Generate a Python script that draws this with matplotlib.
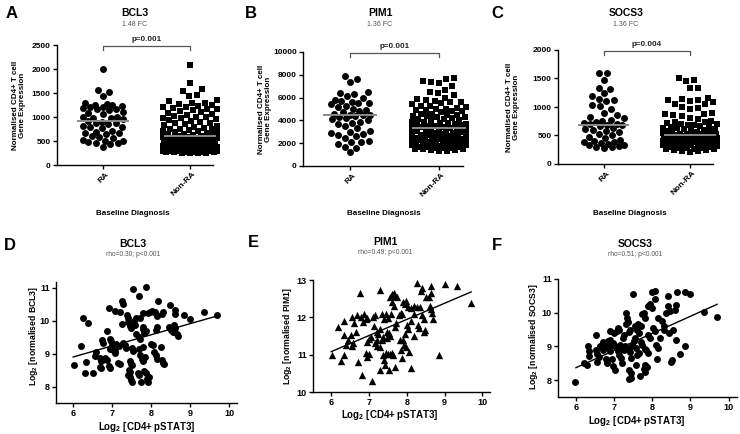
import numpy as np
import matplotlib
matplotlib.use('Agg')
import matplotlib.pyplot as plt
import matplotlib.transforms as mtransforms

plt.rcParams['font.family'] = ['Liberation Sans', 'DejaVu Sans']
plt.rcParams['mathtext.fontset'] = 'custom'
plt.rcParams['mathtext.bf'] = 'Liberation Sans:bold'
plt.rcParams['mathtext.rm'] = 'Liberation Sans:bold'
plt.rcParams['mathtext.default'] = 'bf'

# ---------------- data ----------------
groups = ['RA', 'Non-RA']

bcl3_ra = [2010, 1560, 1530, 1440, 1290, 1270, 1250, 1240, 1220, 1210, 1200, 1180, 1170, 1160, 1150,
           1100, 1080, 1060, 1010, 1000, 980, 970, 950, 920, 900, 880, 870, 860, 820, 800, 790, 770,
           700, 690, 670, 660, 640, 600, 580, 570, 520, 500, 490, 470, 460, 450, 440, 380]
bcl3_nonra = [2080, 1700, 1580, 1540, 1460, 1440, 1360, 1330, 1300, 1290, 1270, 1240, 1230, 1210, 1200,
              1190, 1170, 1160, 1140, 1120, 1100, 1080, 1070, 1050, 1030, 1010, 1000, 980, 970, 950,
              930, 920, 900, 880, 870, 850, 830, 810, 800, 780, 760, 750, 740, 720, 710, 700, 690, 680,
              660, 650, 640, 630, 620, 610, 600, 590, 585, 570, 560, 555, 540, 530, 520, 515, 500, 495,
              490, 480, 470, 465, 460, 450, 445, 440, 430, 420, 415, 410, 400, 395, 390, 380, 375, 370,
              360, 355, 350, 345, 340, 330, 325, 320, 315, 310, 305, 300, 300, 295, 290, 290, 285, 280,
              280, 275, 270, 270, 265, 260, 260, 255, 250]
pim1_ra = [7900, 7600, 7400, 6500, 6400, 6300, 6100, 6000, 5800, 5700, 5600, 5500, 5500, 5400, 5300,
           5200, 5000, 4900, 4800, 4700, 4600, 4500, 4500, 4450, 4400, 4300, 4200, 4100, 4000, 3900,
           3800, 3700, 3500, 3300, 3100, 3000, 2900, 2800, 2700, 2600, 2500, 2200, 2100, 2100, 1900,
           1700, 1600, 1200]
pim1_nonra = [7700, 7600, 7500, 7400, 7300, 7000, 6700, 6500, 6400, 6200, 6000, 5900, 5800, 5700, 5600,
              5600, 5500, 5400, 5300, 5300, 5200, 5100, 5000, 5000, 4900, 4900, 4800, 4800, 4700, 4600,
              4600, 4500, 4500, 4400, 4400, 4300, 4300, 4200, 4100, 4100, 4000, 4000, 3900, 3900, 3800,
              3800, 3700, 3700, 3600, 3600, 3500, 3500, 3400, 3400, 3350, 3300, 3300, 3200, 3200, 3100,
              3100, 3000, 3000, 2950, 2900, 2900, 2800, 2800, 2750, 2700, 2700, 2600, 2600, 2550, 2500,
              2500, 2450, 2400, 2400, 2350, 2300, 2300, 2250, 2200, 2200, 2150, 2100, 2100, 2050, 2000,
              2000, 2000, 1950, 1900, 1900, 1850, 1800, 1800, 1750, 1700, 1700, 1650, 1600, 1600, 1550,
              1500, 1500, 1450, 1400, 1400, 1350, 1300]
socs3_ra = [1600, 1590, 1470, 1340, 1320, 1240, 1200, 1140, 1120, 1100, 1030, 1010, 960, 900, 860, 830,
            800, 780, 750, 740, 720, 710, 700, 690, 680, 660, 640, 620, 600, 580, 560, 520, 500, 480,
            450, 420, 400, 390, 380, 360, 350, 340, 340, 320, 300, 290, 280]
socs3_nonra = [1510, 1480, 1450, 1340, 1330, 1160, 1140, 1130, 1120, 1100, 1080, 1060, 1050, 1000, 980,
               960, 900, 880, 870, 860, 840, 810, 790, 760, 740, 730, 720, 710, 700, 690, 680, 670, 660,
               650, 640, 630, 620, 610, 600, 590, 580, 570, 560, 550, 540, 535, 530, 525, 520, 515, 510,
               505, 500, 495, 490, 485, 480, 475, 470, 465, 460, 455, 450, 445, 440, 435, 430, 425, 420,
               415, 410, 405, 400, 395, 390, 385, 380, 375, 370, 365, 360, 350, 345, 340, 330, 325, 320,
               310, 300, 295, 290, 285, 280, 275, 270, 265, 260, 250, 240, 230, 220, 210]

top_genes = ['BCL3', 'PIM1', 'SOCS3']
top_fc = ['1.48 FC', '1.36 FC', '1.36 FC']
top_pvals = ['p=0.001', 'p=0.001', 'p=0.004']
top_medians = [[910, 600], [4450, 3300], [690, 510]]

# Correlation panels (x = log2 CD4+ pSTAT3)
bcl3_xy = [(6.02, 8.65), (6.26, 10.10), (6.38, 9.93), (6.20, 9.22), (6.34, 8.76), (6.30, 8.40), (6.50, 8.42),
           (6.58, 9.05), (6.55, 8.92), (6.70, 8.88), (6.72, 8.78), (6.75, 8.82), (6.68, 8.60), (6.72, 8.55),
           (6.74, 9.42), (6.76, 9.32), (6.88, 9.68), (6.93, 10.40), (7.08, 10.30), (7.19, 10.28),
           (6.95, 9.45), (6.98, 9.38), (7.03, 9.12), (7.06, 9.08), (7.08, 9.03), (6.82, 8.88), (6.86, 8.80),
           (6.92, 8.62), (6.95, 8.55), (7.25, 10.60), (7.28, 10.52), (7.38, 10.18), (7.40, 10.10),
           (7.53, 10.98), (7.86, 11.03), (7.68, 10.74), (7.40, 9.95), (7.45, 9.85), (7.48, 9.78),
           (7.55, 9.98), (7.58, 9.88), (7.28, 9.32), (7.32, 9.25), (7.35, 9.18), (7.50, 9.18), (7.53, 9.08),
           (7.45, 8.78), (7.48, 8.70), (7.52, 8.65), (7.42, 8.50), (7.45, 8.45), (7.45, 8.30), (7.48, 8.20),
           (7.52, 8.15), (7.40, 8.35), (7.65, 8.42), (7.70, 8.35), (7.82, 8.48), (7.86, 8.42), (7.90, 8.22),
           (7.93, 8.15), (7.75, 8.15), (7.95, 8.28), (7.72, 8.95), (7.76, 8.85), (7.80, 8.78), (7.85, 8.90),
           (7.80, 9.20), (7.70, 9.15), (7.82, 9.62), (7.86, 9.68), (7.92, 10.25), (7.98, 10.28),
           (8.02, 10.30), (8.06, 10.26), (7.72, 10.10), (7.78, 10.25), (8.10, 10.28), (8.15, 10.15),
           (8.18, 10.60), (8.28, 10.22), (8.30, 10.28), (8.49, 10.48), (8.60, 10.32), (8.62, 10.22),
           (8.84, 10.17), (9.00, 10.05), (9.35, 10.26), (9.70, 10.19), (8.15, 9.82), (8.12, 9.72),
           (8.45, 9.82), (8.50, 9.72), (8.58, 9.88), (8.62, 9.78), (8.65, 9.60), (8.70, 9.55), (8.55, 9.65),
           (8.08, 9.05), (8.12, 8.95), (8.16, 8.85), (8.28, 8.80), (8.30, 8.72), (8.32, 8.68), (8.25, 9.20),
           (8.00, 9.30), (8.04, 9.25), (7.78, 9.82), (7.80, 9.75), (7.68, 9.50), (7.72, 9.45),
           (7.15, 8.72), (7.20, 8.68), (7.10, 9.30), (7.18, 9.22), (7.25, 9.90), (7.60, 10.08),
           (7.62, 9.60), (6.95, 9.15), (7.00, 9.25)]
pim1_xy = [(6.02, 10.98), (6.27, 10.84), (6.35, 10.98), (6.19, 11.75), (6.33, 11.54), (6.35, 11.90),
           (6.55, 12.00), (6.52, 11.54), (6.68, 12.07), (6.75, 12.65), (6.58, 11.30), (6.55, 11.22),
           (6.70, 10.80), (6.81, 10.46), (6.78, 12.00), (6.88, 12.08), (6.96, 11.98), (6.85, 11.88),
           (6.92, 11.95), (6.92, 11.05), (6.95, 10.95), (7.00, 11.02), (7.08, 10.30), (6.95, 11.35),
           (7.00, 11.42), (7.05, 11.48), (7.30, 12.74), (7.35, 12.10), (7.40, 11.95), (7.45, 12.08),
           (7.50, 11.98), (7.20, 11.62), (7.25, 11.55), (7.28, 11.70), (7.15, 11.30), (7.20, 11.22),
           (7.22, 11.38), (7.38, 10.98), (7.40, 10.85), (7.42, 10.72), (7.55, 12.55), (7.60, 12.62),
           (7.65, 12.65), (7.68, 12.58), (7.48, 11.62), (7.52, 11.58), (7.55, 11.50), (7.48, 11.45),
           (7.45, 11.05), (7.50, 11.03), (7.55, 11.03), (7.60, 11.05), (7.64, 11.00), (7.68, 10.68),
           (7.80, 12.05), (7.85, 12.12), (7.88, 12.08), (7.90, 12.40), (7.95, 12.35), (7.98, 12.45),
           (8.02, 12.28), (7.90, 11.40), (7.92, 11.25), (7.85, 11.12), (7.88, 10.92), (8.10, 10.64),
           (8.12, 12.25), (8.20, 12.30), (8.28, 12.28), (8.35, 12.28), (8.27, 12.92), (8.38, 12.70),
           (8.40, 12.78), (8.50, 12.55), (8.58, 12.55), (8.65, 12.85), (8.63, 12.65), (8.62, 12.30),
           (8.64, 12.22), (8.66, 12.12), (8.70, 11.95), (9.00, 12.88), (9.34, 12.84), (9.69, 12.38),
           (8.85, 10.98), (8.45, 11.62), (8.30, 11.80), (8.32, 11.72), (8.00, 11.80), (8.04, 11.70),
           (8.20, 11.50), (8.12, 11.90), (8.18, 12.08), (8.40, 12.05), (8.45, 11.95), (7.70, 11.75),
           (7.72, 11.85), (7.65, 12.30), (7.62, 12.40), (7.75, 12.55), (7.58, 12.10), (7.10, 12.02),
           (7.15, 12.05), (7.12, 11.78), (7.35, 11.40), (7.38, 11.48), (7.30, 11.20), (7.95, 11.55),
           (7.98, 11.20), (8.05, 11.08), (7.82, 11.38), (6.65, 11.60), (6.60, 11.85), (6.45, 11.40),
           (6.40, 11.25), (7.28, 10.60), (7.52, 10.58), (8.48, 11.65)]
socs3_xy = [(5.98, 7.95), (6.22, 8.50), (6.28, 8.45), (6.32, 9.00), (6.35, 8.85), (6.34, 8.72), (6.52, 9.35),
            (6.52, 8.90), (6.56, 8.78), (6.55, 8.55), (6.70, 9.12), (6.75, 9.05), (6.78, 8.98), (6.72, 8.88),
            (6.80, 8.62), (6.82, 8.52), (6.92, 9.02), (6.96, 9.10), (7.00, 9.05), (7.04, 8.98),
            (6.95, 8.62), (6.98, 8.42), (7.02, 8.30), (7.08, 9.45), (7.10, 9.55), (7.14, 9.48),
            (7.15, 9.05), (7.20, 8.92), (7.25, 8.88), (7.28, 9.02), (7.30, 9.98), (7.32, 9.68), (7.36, 9.72),
            (7.38, 8.92), (7.42, 8.82), (7.44, 8.65), (7.40, 8.30), (7.45, 8.22), (7.40, 8.02), (7.44, 8.05),
            (7.50, 10.55), (7.55, 9.60), (7.60, 9.50), (7.62, 9.68), (7.70, 9.12), (7.74, 9.05),
            (7.72, 9.95), (7.78, 10.00), (7.82, 9.85), (7.80, 8.92), (7.84, 8.88), (7.88, 8.80),
            (7.80, 8.45), (7.68, 8.12), (7.90, 10.20), (7.95, 10.25), (8.00, 10.15), (8.00, 10.62),
            (8.08, 10.65), (8.07, 10.40), (8.02, 9.55), (8.06, 9.45), (8.10, 9.05), (8.16, 8.95),
            (8.12, 8.62), (8.30, 9.62), (8.32, 9.48), (8.42, 10.20), (8.46, 10.05), (8.62, 10.22),
            (8.60, 10.08), (8.65, 10.62), (8.40, 10.50), (8.62, 9.18), (8.72, 8.78), (8.86, 9.00),
            (8.86, 10.62), (9.00, 10.55), (9.35, 10.02), (9.70, 9.88), (8.50, 8.55), (8.52, 8.60),
            (7.78, 8.32), (7.82, 8.25), (7.85, 8.40), (6.85, 9.15), (6.88, 9.20), (6.90, 8.85),
            (7.10, 8.85), (7.12, 8.75), (7.18, 8.65), (7.22, 9.25), (7.25, 9.35), (7.48, 9.05),
            (7.52, 9.15), (7.55, 9.25), (7.58, 8.95), (7.60, 8.75), (7.65, 8.80), (7.35, 9.85),
            (7.38, 9.42), (7.42, 9.50), (7.65, 9.40), (7.70, 9.60), (7.90, 9.35), (7.95, 9.25),
            (8.20, 9.25), (8.25, 9.75), (8.35, 10.00), (8.15, 9.85), (8.45, 9.40), (8.55, 9.50),
            (7.00, 9.40), (6.90, 9.45), (6.62, 9.00), (6.60, 8.70), (7.58, 8.45), (7.20, 8.50)]

fit_x = [6.0, 9.7]
bcl3_fit = [8.90, 10.15]
pim1_fit = [11.08, 12.68]
socs3_fit = [8.37, 10.25]
rho_texts = ['rho=0.30; p<0.001', 'rho=0.49; p<0.001', 'rho=0.51; p<0.001']

# ---------------- figure ----------------
W, H = 740, 434
fig = plt.figure(figsize=(W / 100, H / 100), dpi=100)


def add_ax(l, t, r, b):
    return fig.add_axes([l / W, 1 - b / H, (r - l) / W, (b - t) / H])


def ftext(x, y, s, **kw):
    kw.setdefault('ha', 'center')
    kw.setdefault('va', 'center')
    fig.text(x / W, 1 - y / H, s, **kw)


def style(ax, fs=6):
    for s in ['top', 'right']:
        ax.spines[s].set_visible(False)
    for s in ['left', 'bottom']:
        ax.spines[s].set_linewidth(1.0)
    ax.tick_params(direction='out', length=3, width=1, pad=1.5, labelsize=fs)
    for lab in ax.get_xticklabels() + ax.get_yticklabels():
        lab.set_fontweight('bold')
    ax.set_facecolor('none')


def beeswarm(ypx, d, maxhalf):
    """Column-scatter layout in pixel space: each point goes to the free spot
    closest to the column centre; if none is free, the least crowded spot."""
    ypx = np.asarray(ypx, float)
    order = np.argsort(ypx)
    cands = [0.0]
    for c in np.arange(1.0, maxhalf + 0.01, 1.0):
        cands += [c, -c]
    cands = np.array(cands)
    px, py = [], []
    res = np.zeros(len(ypx))
    for idx in order:
        y = ypx[idx]
        if px:
            ax_ = np.array(px)
            ay_ = np.array(py)
            near = np.abs(ay_ - y) < d
            if near.any():
                nx = ax_[near]
                ny = ay_[near]
                dist = np.sqrt((cands[:, None] - nx[None, :]) ** 2 + (y - ny[None, :]) ** 2).min(axis=1)
                ok = np.where(dist >= d)[0]
                best = cands[ok[0]] if len(ok) else cands[np.argmax(dist)]
            else:
                best = 0.0
        else:
            best = 0.0
        res[idx] = best
        px.append(best)
        py.append(y)
    return res


top_data = [(bcl3_ra, bcl3_nonra), (pim1_ra, pim1_nonra), (socs3_ra, socs3_nonra)]
top_boxes = [(57, 45, 213, 165), (303, 52, 463, 166), (558, 50, 713, 164)]
top_ylims = [(0, 2500), (0, 10000), (0, 2000)]
top_yticks = [[0, 500, 1000, 1500, 2000, 2500], list(range(0, 10001, 2000)), [0, 500, 1000, 1500, 2000]]
top_letters = [('A', 12, 13), ('B', 251, 13), ('C', 497, 13)]
top_title_x = [135, 380, 626]
top_ylab_x = [19, 265, 513]
top_ylab_y = [105, 109, 107]
top_xlab_x = [133, 384, 630]
xlim_top = (-0.53, 1.27)

for k in range(3):
    l, t, r, b = top_boxes[k]
    ax = add_ax(l, t, r, b)
    ax.set_xlim(*xlim_top)
    ax.set_ylim(*top_ylims[k])
    axh = b - t
    axw = r - l
    vpp = (top_ylims[k][1] - top_ylims[k][0]) / axh
    xpp = (xlim_top[1] - xlim_top[0]) / axw
    ra, nra = top_data[k]
    xs0 = 0 + beeswarm(np.array(ra) / vpp, 7.2, 20) * xpp
    xs1 = 1 + beeswarm(np.array(nra) / vpp, 7.6, 27) * xpp
    ax.scatter(xs0, ra, s=25, marker='o', color='black', linewidths=0, clip_on=False, zorder=3)
    ax.scatter(xs1, nra, s=24, marker='s', color='black', linewidths=0, clip_on=False, zorder=3)
    for gi, med in enumerate(top_medians[k]):
        ax.plot([gi - 0.3, gi + 0.3], [med, med], color='#8a8a8a', lw=1.4, zorder=4,
                solid_capstyle='butt', clip_on=False)
    yb = top_ylims[k][1] * 0.995
    ax.plot([0, 0, 1, 1], [yb - 4 * vpp, yb, yb, yb - 4 * vpp], color='#555555', lw=0.9,
            clip_on=False, zorder=2)
    ax.text(0.5, yb + 3 * vpp, top_pvals[k], ha='center', va='bottom', fontsize=5.8,
            fontweight='bold', color='#222222')
    ax.set_xticks([0, 1])
    ax.set_xticklabels(groups)
    ax.set_yticks(top_yticks[k])
    style(ax, fs=6)
    offset = mtransforms.ScaledTranslation(5 / 100, -2 / 100, fig.dpi_scale_trans)
    for lab in ax.get_xticklabels():
        lab.set_rotation(45)
        lab.set_ha('right')
        lab.set_va('center')
        lab.set_rotation_mode('anchor')
        lab.set_transform(lab.get_transform() + offset)
        lab.set_fontsize(6)
    letter, lx, ly = top_letters[k]
    ftext(lx, ly, letter, fontsize=12, fontweight='bold')
    ftext(top_title_x[k], 13, top_genes[k], fontsize=7.5, fontweight='bold')
    ftext(top_title_x[k], 24, top_fc[k], fontsize=5, color='#555555')
    ftext(top_ylab_x[k], top_ylab_y[k], 'Normalised CD4+ T cell\nGene Expression', fontsize=5.8,
          fontweight='bold', rotation=90, linespacing=1.1)
    ftext(top_xlab_x[k], 213, 'Baseline Diagnosis', fontsize=5.8, fontweight='bold')

# bottom row
bot_data = [bcl3_xy, pim1_xy, socs3_xy]
bot_fits = [bcl3_fit, pim1_fit, socs3_fit]
bot_boxes = [(56, 282, 237, 403), (313, 280, 490, 392), (558, 279, 737, 397)]
bot_ylims = [(7.5, 11.18), (10, 13), (7.5, 11.0)]
bot_yticks = [[8, 9, 10, 11], [10, 11, 12, 13], [8, 9, 10, 11]]
bot_xlims = [(5.56, 10.2), (5.52, 10.2), (5.53, 10.22)]
bot_markers = ['o', '^', 'o']
bot_sizes = [25, 28, 25]
bot_letters = [('D', 10, 245), ('E', 253, 243), ('F', 497, 245)]
bot_title_x = [133, 385, 635]
bot_title_y = [244, 242, 244]
bot_ylab_x = [33, 288, 533]
bot_ylab_y = [336, 336, 337]
bot_xlab = [(147, 427), (390, 415), (637, 421)]

for k in range(3):
    l, t, r, b = bot_boxes[k]
    ax = add_ax(l, t, r, b)
    ax.set_xlim(*bot_xlims[k])
    ax.set_ylim(*bot_ylims[k])
    pts = np.array(bot_data[k])
    ax.scatter(pts[:, 0], pts[:, 1], s=bot_sizes[k], marker=bot_markers[k], color='black',
               linewidths=0, clip_on=False, zorder=3)
    ax.plot(fit_x, bot_fits[k], color='black', lw=1.0, zorder=4)
    ax.set_xticks([6, 7, 8, 9, 10])
    ax.set_yticks(bot_yticks[k])
    style(ax, fs=6.5)
    letter, lx, ly = bot_letters[k]
    ftext(lx, ly, letter, fontsize=12, fontweight='bold')
    ftext(bot_title_x[k], bot_title_y[k], top_genes[k], fontsize=7.5, fontweight='bold')
    ftext(bot_title_x[k], bot_title_y[k] + 10, rho_texts[k], fontsize=4.8, color='#555555')
    ftext(bot_ylab_x[k], bot_ylab_y[k], 'Log$_2$ [normalised %s]' % top_genes[k], fontsize=6.2,
          fontweight='bold', rotation=90)
    ftext(bot_xlab[k][0], bot_xlab[k][1], 'Log$_2$ [CD4+ pSTAT3]', fontsize=7, fontweight='bold')

fig.savefig('out.png', dpi=100)
